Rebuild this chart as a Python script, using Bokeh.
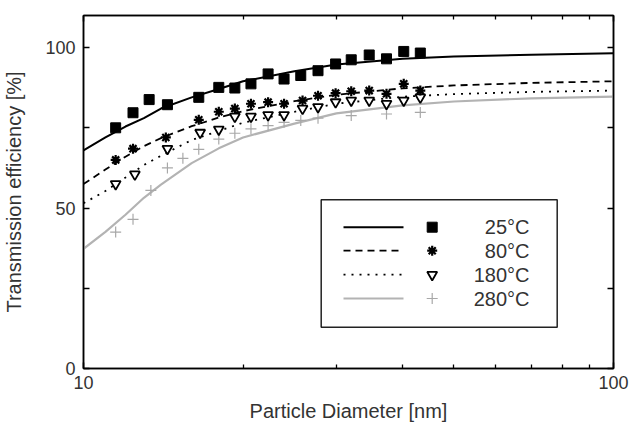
from bokeh.plotting import figure
from bokeh.models import (Range1d, LinearAxis, LogAxis, FixedTicker, LinearScale,
                          BasicTickFormatter)
from bokeh.embed import file_html
from bokeh.resources import INLINE
from bokeh.core.properties import value

# ---------------- data ----------------
# measured points: particle diameter [nm] and transmission efficiency [%]
sq_d = [11.5, 12.4, 13.3, 14.4, 16.5, 18.0, 19.3, 20.7, 22.3, 23.9, 25.7, 27.7, 29.9, 32.0, 34.6, 37.3, 40.2, 43.2]
sq_v = [75.0, 79.7, 83.8, 82.2, 84.5, 87.6, 87.4, 88.7, 91.8, 90.2, 91.3, 92.8, 94.9, 96.2, 97.7, 96.5, 98.8, 98.3]

ast_d = [11.5, 12.4, 14.3, 16.5, 18.0, 19.3, 20.7, 22.3, 23.9, 25.9, 27.7, 29.9, 32.0, 34.6, 37.3, 40.2, 43.2]
ast_v = [65.0, 68.5, 72.0, 77.5, 80.0, 81.0, 82.5, 83.0, 82.5, 83.5, 85.0, 85.8, 86.4, 86.6, 85.6, 88.7, 86.6]

tri_d = [11.5, 12.5, 14.4, 16.6, 18.0, 19.3, 20.7, 22.3, 23.9, 25.9, 27.7, 29.9, 32.0, 34.6, 37.3, 40.2, 43.2]
tri_v = [57.5, 60.5, 68.5, 73.5, 74.5, 78.5, 78.5, 79.0, 79.0, 81.0, 81.5, 83.0, 83.5, 83.5, 82.5, 83.5, 84.5]

plus_d = [11.5, 12.4, 13.4, 14.4, 15.4, 16.5, 18.0, 19.3, 20.7, 22.3, 23.9, 25.7, 27.7, 32.0, 37.3, 43.2]
plus_v = [42.5, 46.5, 55.5, 62.5, 65.5, 68.3, 71.5, 73.3, 74.7, 75.7, 76.7, 77.3, 78.0, 78.8, 79.3, 79.8]

# fitted curves read at these diameters
fit_d = [10, 11, 12, 13, 14, 16, 18, 20, 25, 30, 40, 50, 70, 100]
fit25 = [68.0, 72.0, 75.4, 78.0, 81.0, 84.5, 87.1, 89.5, 92.6, 94.7, 96.5, 97.2, 97.8, 98.2]
fit80 = [57.5, 62.0, 66.0, 69.3, 71.8, 75.5, 78.2, 80.2, 83.3, 85.3, 87.3, 88.2, 89.0, 89.5]
fit180 = [51.5, 55.3, 59.5, 63.4, 66.3, 71.2, 74.0, 76.6, 80.0, 82.5, 84.7, 85.5, 86.2, 86.6]
fit280 = [37.3, 42.6, 47.9, 53.2, 57.3, 64.0, 68.6, 72.0, 76.3, 79.5, 82.0, 83.2, 84.2, 84.7]

legend_labels = ["25°C", "80°C", "180°C", "280°C"]

x_major = [10, 100]
x_minor = [20, 30, 40, 50, 60, 70, 80, 90]
y_major = [0, 50, 100]
y_minor = [25, 75]

FONT = "Liberation Sans"
TXT = "#333333"

# ---------------- figure ----------------
W, H = 635, 425
BL, BR, BT, BB = 83, 22, 15, 57
p = figure(width=W, height=H, x_axis_type="log",
           x_range=Range1d(10, 100), y_range=Range1d(0, 110),
           output_backend="svg", toolbar_location=None,
           min_border_left=BL, min_border_right=BR,
           min_border_top=BT, min_border_bottom=BB)
p.xgrid.visible = False
p.ygrid.visible = False
p.outline_line_color = "black"
p.outline_line_width = 1.5
p.background_fill_color = "white"
p.border_fill_color = "white"


def style_axis(ax, show_labels=True):
    ax.axis_line_color = "black"
    ax.axis_line_width = 1.5
    ax.major_tick_in = 6
    ax.major_tick_out = 0
    ax.minor_tick_in = 4
    ax.minor_tick_out = 0
    ax.major_tick_line_color = "black"
    ax.major_tick_line_width = 1.5
    ax.minor_tick_line_color = "black"
    ax.minor_tick_line_width = 1.3
    ax.major_label_text_font = FONT
    ax.major_label_text_color = TXT
    if show_labels:
        ax.major_label_text_font_size = "18px"
    else:
        ax.major_label_text_font_size = "1px"
        ax.major_label_text_alpha = 0
        ax.major_label_standoff = 0


xb = p.xaxis[0]
xb.ticker = FixedTicker(ticks=x_major, minor_ticks=x_minor)
xb.formatter = BasicTickFormatter()
style_axis(xb)
xb.major_label_standoff = 7
xb.axis_label = "Particle Diameter [nm]"
xb.axis_label_standoff = 8
xb.axis_label_text_font = FONT
xb.axis_label_text_font_size = "20px"
xb.axis_label_text_font_style = "normal"
xb.axis_label_text_color = TXT

yl = p.yaxis[0]
yl.ticker = FixedTicker(ticks=y_major, minor_ticks=y_minor)
style_axis(yl)
yl.minor_tick_in = 6
yl.major_label_standoff = 8
yl.axis_label = "Transmission efficiency [%]"
yl.axis_label_standoff = 17
yl.axis_label_text_font = FONT
yl.axis_label_text_font_size = "20px"
yl.axis_label_text_font_style = "normal"
yl.axis_label_text_color = TXT

xt = LogAxis(ticker=FixedTicker(ticks=x_major, minor_ticks=x_minor),
             formatter=BasicTickFormatter())
style_axis(xt, show_labels=False)
p.add_layout(xt, "above")

yr = LinearAxis(ticker=FixedTicker(ticks=y_major, minor_ticks=y_minor))
style_axis(yr, show_labels=False)
yr.minor_tick_in = 6
p.add_layout(yr, "right")

# ---------------- curves and points ----------------
p.line(fit_d, fit280, line_color="#b3b3b3", line_width=2.2)
p.line(fit_d, fit180, line_color="black", line_width=1.8, line_dash="2 6")
p.line(fit_d, fit80, line_color="black", line_width=1.8, line_dash="7 5")
p.line(fit_d, fit25, line_color="black", line_width=2)

p.scatter(plus_d, plus_v, marker="cross", size=11, line_color="#a8a8a8", line_width=1.2)
p.scatter(tri_d, tri_v, marker="inverted_triangle", size=10, fill_color="white",
          line_color="black", line_width=1.8)
p.scatter(ast_d, ast_v, marker="asterisk", size=10, line_color="black", line_width=2.2)
p.scatter(sq_d, sq_v, marker="square", size=10, fill_color="black", line_color="black")

# ---------------- legend (frame pixel coordinates) ----------------
fw, fh = W - BL - BR, H - BT - BB
p.extra_x_ranges = {"lg": Range1d(0, fw)}
p.extra_x_scales = {"lg": LinearScale()}
p.extra_y_ranges = {"lg": Range1d(0, fh)}
p.extra_y_scales = {"lg": LinearScale()}
lg = dict(x_range_name="lg", y_range_name="lg")

p.quad(left=[237.7], right=[473.7], bottom=[41.3], top=[168.7], fill_color="white",
       line_color="#222222", line_width=1.5, **lg)
rows = [141.3, 117.8, 93.8, 70.0]
line_styles = [
    dict(line_color="black", line_width=2),
    dict(line_color="black", line_width=1.8, line_dash="7 5"),
    dict(line_color="black", line_width=1.8, line_dash="2 6"),
    dict(line_color="#b3b3b3", line_width=2.2),
]
marker_styles = [
    dict(marker="square", size=10, fill_color="black", line_color="black"),
    dict(marker="asterisk", size=10, line_color="black", line_width=2.2),
    dict(marker="inverted_triangle", size=10, fill_color="white", line_color="black", line_width=1.8),
    dict(marker="cross", size=11, line_color="#a8a8a8", line_width=1.2),
]
for r, ls, ms in zip(rows, line_styles, marker_styles):
    p.line([260, 320], [r, r], **ls, **lg)
    p.scatter([348.7], [r], **ms, **lg)
p.text(x=[446] * 4, y=rows, text=legend_labels, text_align="right", text_baseline="middle",
       text_font=value(FONT), text_font_size="20px", text_color=TXT, **lg)

open("out.html", "w").write(file_html(p, INLINE))
